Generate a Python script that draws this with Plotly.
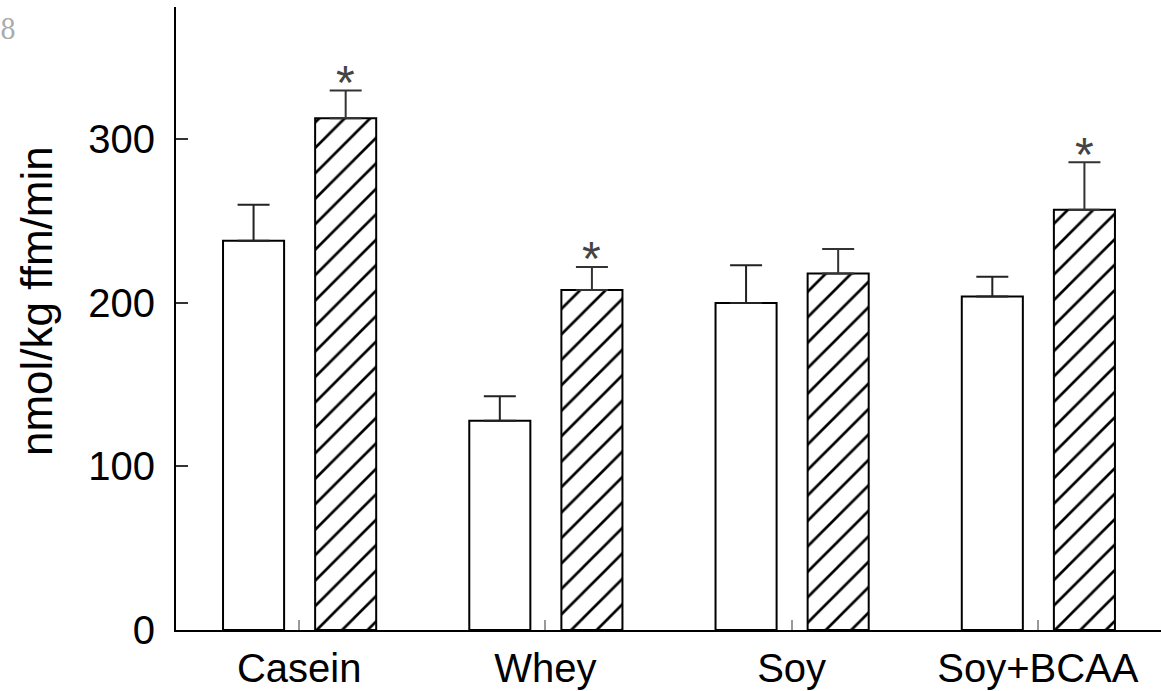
import plotly.graph_objects as go

categories = ["Casein", "Whey", "Soy", "Soy+BCAA"]
control_vals = [238, 128, 200, 204]
control_err = [22, 15, 23, 12]
treat_vals = [313, 208, 218, 257]
treat_err = [17, 14, 15, 29]
significant = [True, True, False, True]
y_ticks = [0, 100, 200, 300]
y_title = "nmol/kg ffm/min"

BAR_W = 0.248
OFF_C = -0.309
OFF_T = 0.065

fig = go.Figure()
fig.add_trace(go.Bar(
    x=categories, y=control_vals, width=BAR_W, offset=OFF_C,
    marker=dict(color="white", line=dict(color="black", width=2)),
    error_y=dict(type="data", symmetric=False, array=control_err,
                 arrayminus=[0] * len(control_err), color="#222", thickness=2, width=16),
    showlegend=False, hoverinfo="skip",
))
fig.add_trace(go.Bar(
    x=categories, y=treat_vals, width=BAR_W, offset=OFF_T,
    marker=dict(color="white", line=dict(color="black", width=2),
                pattern=dict(shape="/", size=18, solidity=0.15, fgcolor="black",
                             fgopacity=1, bgcolor="white")),
    error_y=dict(type="data", symmetric=False, array=treat_err,
                 arrayminus=[0] * len(treat_err), color="#333", thickness=2, width=16),
    showlegend=False, hoverinfo="skip",
))

for i, (v, e, s) in enumerate(zip(treat_vals, treat_err, significant)):
    if s:
        fig.add_annotation(x=i + OFF_T + BAR_W / 2, y=v + e, xref="x", yref="y",
                           text="*", showarrow=False, yanchor="middle", yshift=8,
                           font=dict(family="Liberation Sans, Arial", size=48, color="#444"))

fig.add_annotation(x=0, y=0, xref="paper", yref="paper", xanchor="left", yanchor="middle",
                   text="8", showarrow=False, xshift=-178, yshift=601,
                   font=dict(family="DejaVu Serif Condensed, Liberation Serif, serif",
                             size=28, color="#aaa"))

fig.add_annotation(x=0, y=0, xref="paper", yref="paper", xanchor="center", yanchor="middle",
                   text=y_title, textangle=-90, showarrow=False, xshift=-140, yshift=329,
                   font=dict(family="Liberation Sans, Arial", size=44, color="black"))

fig.update_layout(
    width=1161, height=691,
    margin=dict(l=176, r=0, t=7, b=61, autoexpand=False),
    paper_bgcolor="white", plot_bgcolor="white",
    font=dict(family="Liberation Sans, Arial", color="black"),
    xaxis=dict(type="category", range=[-0.5, 3.5], showline=True, linecolor="black", linewidth=2,
               ticks="inside", ticklen=10, tickwidth=1.5, tickcolor="#999",
               tickfont=dict(size=40), showgrid=False, zeroline=False,
               ticklabelstandoff=2, automargin=False),
    yaxis=dict(range=[0, 381], showline=True, linecolor="black", linewidth=2,
               tickvals=y_ticks, ticks="inside", ticklen=12, tickwidth=1.5, tickcolor="#333",
               tickfont=dict(size=40), showgrid=False, zeroline=False,
               ticklabelstandoff=11, automargin=False),
)

fig.write_html("out.html", config={"displayModeBar": False},
               post_script="document.body.style.margin='0';document.body.style.overflow='hidden';")
